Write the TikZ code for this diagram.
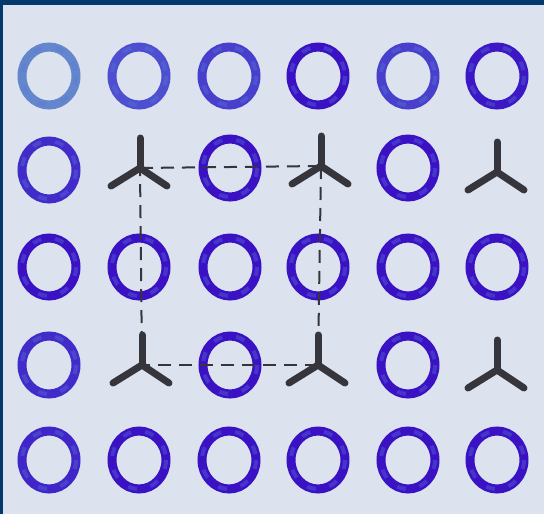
\documentclass[tikz,border=0pt]{standalone}
\usetikzlibrary{calc}
\definecolor{navy}{HTML}{023A6E}
\definecolor{bg}{HTML}{DCE3EE}
\definecolor{ringdeep}{HTML}{3A12C4}
\definecolor{ringlight}{HTML}{5A78D8}
\definecolor{ringpale}{HTML}{6486CC}
\definecolor{starcol}{HTML}{35353B}
\tikzset{
  ringshape/.style={line width=9pt},
  starline/.style={line width=7pt, line cap=round, color=starcol},
  dashlink/.style={line width=2pt, color=starcol, dash pattern=on 13pt off 8pt},
  pics/tristar/.style={code={
    \draw[starline] (0,0) -- (0,-30);
    \draw[starline] (0,0) -- (-29,18);
    \draw[starline] (0,0) -- (27,18);
  }}
}
\newcommand{\myring}[3]{% x, y, colour
  \draw[ringshape, color=#3] (#1,#2) ellipse [x radius=27, y radius=29];
  \draw[line width=4pt, color=ringlight, opacity=0.35, dash pattern=on 9pt off 14pt]
     (#1,#2) ellipse [x radius=27, y radius=29];
}
\begin{document}
\begin{tikzpicture}[x=1pt,y=-1pt]
\useasboundingbox (0,0) rectangle (544,514);
\fill[navy] (0,0) rectangle (544,514);
\fill[bg] (3,5) rectangle (544,514);
% row 1
\myring{49}{76}{ringpale}
\myring{139}{76}{ringlight!60!ringdeep}
\myring{229}{76}{ringlight!45!ringdeep}
\myring{318}{76}{ringdeep}
\myring{408}{76}{ringlight!45!ringdeep}
\myring{497}{76}{ringdeep!95!ringlight}
% row 2
\myring{49}{170}{ringlight!25!ringdeep}
\myring{230}{168}{ringdeep}
\myring{408}{168}{ringdeep}
% row 3
\myring{49}{267}{ringdeep}
\myring{139}{267}{ringdeep}
\myring{230}{267}{ringdeep}
\myring{318}{267}{ringdeep}
\myring{408}{267}{ringdeep}
\myring{497}{267}{ringdeep}
% row 4
\myring{49}{365}{ringlight!25!ringdeep}
\myring{230}{365}{ringdeep}
\myring{408}{365}{ringdeep}
% row 5
\myring{49}{460}{ringlight!20!ringdeep}
\myring{139}{460}{ringdeep}
\myring{229}{460}{ringdeep}
\myring{318}{460}{ringdeep}
\myring{408}{460}{ringdeep}
\myring{497}{460}{ringdeep}
% star centres
\coordinate (sa) at (140,168);
\coordinate (sb) at (321,166);
\coordinate (sc) at (497,172);
\coordinate (sd) at (142,365);
\coordinate (se) at (318,365);
\coordinate (sf) at (497,370);
% dashed square
\draw[dashlink] (sa) -- (sb);
\draw[dashlink] (sb) -- (se);
\draw[dashlink] (se) -- (sd);
\draw[dashlink] (sd) -- (sa);
% stars
\foreach \s in {sa,sb,sc,sd,se,sf} { \pic at (\s) {tristar}; }
\end{tikzpicture}
\end{document}
